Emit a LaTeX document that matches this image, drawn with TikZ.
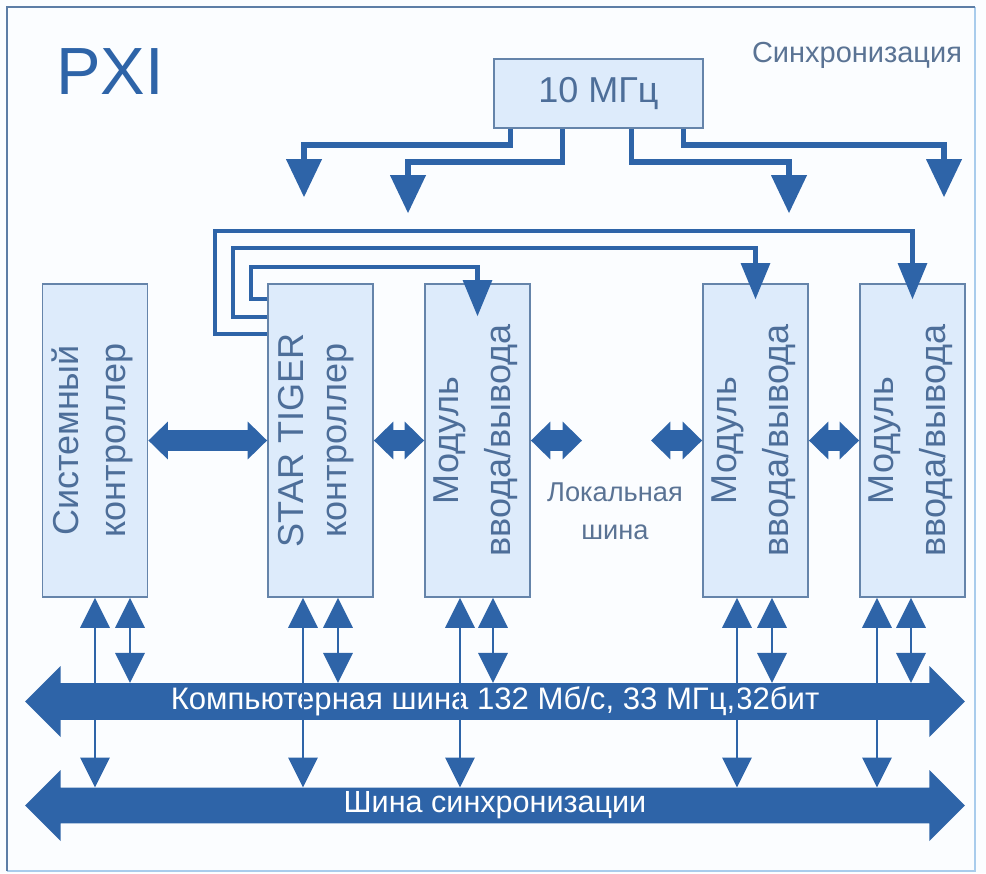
\documentclass[tikz,border=0pt]{standalone}
\usepackage{fontspec}
\setmainfont{Liberation Sans}
\usetikzlibrary{arrows.meta,calc,shapes.arrows}
\definecolor{pxiblue}{HTML}{2E64A8}
\definecolor{boxfill}{HTML}{DDEBFB}
\definecolor{boxline}{HTML}{6584AA}
\definecolor{boxtext}{HTML}{4D6E99}
\definecolor{softtext}{HTML}{5A7394}
\definecolor{framedark}{HTML}{5D7EA6}
\definecolor{framelight}{HTML}{A9CCEC}
\definecolor{paper}{HTML}{FBFDFF}

\begin{document}
\begin{tikzpicture}[x=0.02cm, y=-0.02cm, every node/.style={align=center},
    unitbox/.style={draw=boxline, line width=1.1pt, fill=boxfill, minimum width=2.1cm, minimum height=6.26cm, inner sep=0pt},
    unittext/.style={rotate=90, text=boxtext, font=\fontsize{20.5}{#1}\selectfont},
    unittext/.default=29.5,
    clkline/.style={draw=pxiblue, line width=2.9pt, -{Triangle[width=20.5pt,length=21.5pt,line width=0pt]}},
    route/.style={draw=pxiblue, line width=2.3pt, -{Triangle[width=17pt,length=20.5pt,line width=0pt]}},
    lbus/.style={draw=pxiblue, line width=11.5pt, {Triangle[width=21.5pt,length=11pt,line width=0pt]}-{Triangle[width=21.5pt,length=11pt,line width=0pt]}},
    busline/.style={draw=pxiblue, line width=1.6pt, {Triangle[width=17pt,length=17pt,line width=0pt]}-{Triangle[width=17pt,length=17pt,line width=0pt]}},
    bigbus/.style={double arrow, fill=pxiblue, text=white, minimum height=18.8cm, minimum width=1.42cm, double arrow head extend=0.28cm, inner sep=0pt, font=\fontsize{#1}{20}\selectfont},
    bigbus/.default=17.5]
  \useasboundingbox (0,0) rectangle (986,873);
  \fill[paper] (0,0) rectangle (986,873);
  \draw[framelight, line width=1.2pt] (7,871) -- (975,871) -- (975,7);
  \draw[framedark, line width=1.4pt] (7,871) -- (7,7) -- (975,7);

  % titles
  \node[text=pxiblue, font=\fontsize{38}{40}\selectfont] (title) at (110,72) {PXI};
  \node[text=softtext, font=\fontsize{16.5}{18}\selectfont] (synclbl) at (857,55) {Синхронизация};
  \node[text=softtext, font=\fontsize{15.5}{21.5}\selectfont] (locallbl) at (615,511) {Локальная\\шина};

  % 10 MHz clock
  \node[draw=boxline, line width=1.1pt, fill=boxfill, minimum width=4.18cm, minimum height=1.38cm,
        text=boxtext, font=\fontsize{20.5}{24}\selectfont] (clk) at (598.5,93.5) {10 МГц};

  % units
  \node[unitbox] (sys) at (95,440.5) {};
  \node[unitbox] (star) at (320.5,440.5) {};
  \node[unitbox] (mod1) at (477.5,440.5) {};
  \node[unitbox] (mod2) at (755.5,440.5) {};
  \node[unitbox] (mod3) at (912.5,440.5) {};
  \node[unittext=26.7] (sys-t) at (92,440.5) {Системный\\контроллер};
  \node[unittext=24.8] (star-t) at (316,440.5) {STAR TIGER\\контроллер};
  \foreach \m in {mod1,mod2,mod3}
    \node[unittext] (\m-t) at ($(\m)+(-2,0)$) {Модуль\\ввода/вывода};

  % buses
  \node[bigbus=17.7] (cbus) at (495,701.5) {Компьютерная шина 132 Мб/с, 33 МГц,32бит};
  \node[bigbus=17.4] (sbus) at (495,805.5) {Шина синхронизации};

  % clock distribution
  \coordinate (s1) at (304,197);
  \coordinate (s2) at (408,213);
  \coordinate (s3) at (789,213);
  \coordinate (s4) at (944,197);
  \draw[clkline] ($(clk.south west)+(17,0)$) |- (304,145) -- (s1);
  \draw[clkline] ($(clk.south west)+(69,0)$) |- (408,162) -- (s2);
  \draw[clkline] ($(clk.south west)+(138,0)$) |- (789,162) -- (s3);
  \draw[clkline] ($(clk.south west)+(190,0)$) |- (944,145) -- (s4);

  % STAR TIGER trigger lines
  \draw[route] ($(star.north west)+(0,16)$) -| (251,267) -| ($(mod1.north)+(0,33)$);
  \draw[route] ($(star.north west)+(0,34)$) -| (233,248) -| ($(mod2.north)+(0,16)$);
  \draw[route] ($(star.north west)+(0,51)$) -| (215,231) -| ($(mod3.north)+(0,16)$);

  % local bus
  \coordinate (lb1) at (582,440.5);
  \coordinate (lb2) at (651,440.5);
  \draw[lbus] (sys.east) -- (star.west);
  \draw[lbus] (star.east) -- (mod1.west);
  \draw[lbus] (mod1.east) -- (lb1);
  \draw[lbus] (lb2) -- (mod2.west);
  \draw[lbus] (mod2.east) -- (mod3.west);

  % links to the buses
  \foreach \b/\l/\r in {sys/95/130, star/303/338, mod1/460/493, mod2/737/772, mod3/877/911} {
    \draw[busline] (\b.south -| \l,0) -- (sbus.north -| \l,0);
    \draw[busline] (\b.south -| \r,0) -- (cbus.north -| \r,0);
  }
\end{tikzpicture}
\end{document}
